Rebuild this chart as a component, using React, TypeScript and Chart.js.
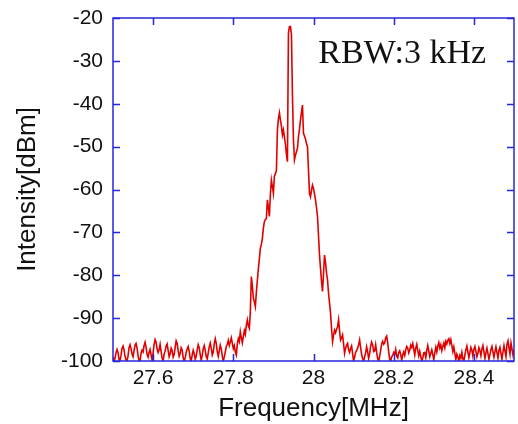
import React, { useEffect, useRef } from "react";
import { Chart, registerables } from "chart.js";

Chart.register(...registerables);

// Frequency grid (MHz) of the spectrum analyser trace
const FREQ_START = 27.5;
const FREQ_STEP = 0.0025;

const X_TICKS = [27.6, 27.8, 28.0, 28.2, 28.4];
const Y_TICKS = [-100, -90, -80, -70, -60, -50, -40, -30, -20];

const X_TITLE = "Frequency[MHz]";
const Y_TITLE = "Intensity[dBm]";
const ANNOTATION = "RBW:3 kHz";

// Intensity in dBm, 27.5000 .. 27.7925 MHz (noise floor, left)
const INTENSITY_LEFT = [
  -99.0, -100, -99.4, -98.1, -97.3, -98.0, -99.6, -100, -98.7, -97.0, -96.5, -97.4, -98.9, -99.7, -100, -98.8, -96.9, -96.2, -97.1, -98.4,
  -99.0, -97.6, -96.3, -95.9, -97.0, -98.8, -99.9, -100, -98.2, -97.5, -97.9, -96.4, -95.6, -96.8, -98.5, -99.1, -98.0, -97.3, -98.6, -99.8,
  -98.1, -96.2, -95.0, -95.6, -97.2, -98.0, -97.4, -96.1, -97.8, -99.3, -100, -98.4, -97.7, -96.5, -96.0, -97.5, -99.0, -98.3, -97.0, -97.6,
  -99.1, -98.5, -96.8, -95.3, -95.9, -97.6, -98.9, -98.2, -96.9, -97.4, -99.2, -100, -99.3, -98.0, -97.2, -96.6, -97.7, -99.4, -100, -98.6,
  -97.5, -98.3, -99.6, -98.9, -97.4, -96.2, -96.9, -98.5, -99.8, -98.7, -97.1, -96.4, -97.6, -99.0, -99.5, -98.1, -96.7, -95.8, -97.0, -98.6,
  -97.9, -96.0, -94.8, -95.9, -97.8, -98.9, -97.6, -96.3, -97.2, -98.8, -100, -99.1, -97.9, -96.6, -96.1, -95.2, -96.4, -95.6,
];

// Intensity in dBm, 27.7950 .. 28.1150 MHz (signal region)
const INTENSITY_SIGNAL = [
  -94.6, -95.8, -97.1, -96.4, -97.9, -98.6, -96.0, -94.8, -95.5, -93.2, -94.6, -95.8, -94.3, -92.9, -93.8, -91.7, -90.4, -91.8, -92.4, -88.6,
  -80.3, -82.4, -85.3, -86.2, -87.3, -84.0, -81.1, -78.5, -76.2, -73.7, -72.8, -71.4, -69.0, -67.5, -67.0, -66.8, -62.4, -64.1, -66.3, -61.0,
  -57.8, -59.3, -60.9, -56.9, -56.3, -55.5, -46.1, -43.5, -42.1, -43.8, -45.2, -47.3, -46.1, -47.7, -49.5, -51.8, -53.5, -23.5, -22.0, -22.0,
  -23.8, -38.0, -48.5, -53.1, -52.0, -51.2, -50.4, -47.7, -45.9, -43.8, -42.0, -40.3, -46.9, -47.5, -48.2, -49.3, -50.0, -55.5, -60.9, -61.7,
  -60.2, -59.0, -59.8, -61.0, -62.4, -64.2, -66.3, -70.8, -75.3, -78.4, -81.5, -83.8, -79.6, -75.3, -77.0, -79.5, -81.1, -84.2, -86.5, -88.9,
  -92.3, -95.5, -94.0, -92.8, -93.4, -92.6, -92.0, -90.4, -92.9, -95.1, -94.6, -93.9, -96.0, -98.2, -97.0, -96.3, -95.9, -97.4, -98.0, -97.1,
  -96.5, -98.3, -100, -99.1, -98.0, -97.6, -97.0, -96.2, -95.1,
];

// Intensity in dBm, 28.1175 .. 28.5000 MHz (noise floor, right)
const INTENSITY_RIGHT = [
  -96.8, -98.5, -99.4, -100, -99.0, -98.1, -96.7, -97.9, -99.4, -98.3, -96.5, -95.6, -96.3, -97.8, -97.6, -96.2, -98.0, -99.5, -100, -98.9,
  -97.5, -96.0, -95.4, -96.1, -95.8, -94.6, -94.2, -95.7, -97.8, -99.6, -100, -99.0, -98.7, -98.0, -98.4, -97.3, -98.9, -99.3, -98.0, -97.6,
  -98.5, -99.8, -98.6, -97.9, -98.7, -97.4, -96.6, -97.0, -98.1, -97.5, -96.3, -96.8, -95.9, -97.2, -98.6, -97.0, -96.1, -97.5, -98.8, -97.7,
  -98.9, -100, -99.3, -98.1, -98.0, -99.2, -97.6, -96.4, -97.7, -99.0, -98.2, -97.4, -98.5, -99.7, -98.1, -96.8, -97.9, -96.5, -95.7, -97.0,
  -96.2, -97.6, -96.6, -95.8, -96.9, -95.4, -96.0, -95.1, -94.8, -95.9, -95.0, -96.4, -97.8, -96.7, -98.2, -99.6, -98.4, -99.1, -100, -98.7,
  -99.3, -98.0, -99.5, -100, -98.6, -97.4, -96.5, -97.9, -99.2, -98.0, -96.8, -97.5, -98.9, -97.3, -96.6, -97.7, -99.0, -98.2, -96.9, -97.6,
  -98.8, -97.2, -96.4, -97.8, -99.4, -98.1, -97.0, -98.3, -99.6, -98.5, -97.3, -96.6, -97.9, -99.1, -97.8, -96.7, -98.0, -99.3, -97.5, -96.8,
  -98.2, -99.6, -97.9, -96.4, -97.7, -99.0, -96.1, -95.3, -96.9, -98.4, -95.8, -97.2, -98.6, -97.4,
];

const INTENSITY = [...INTENSITY_LEFT, ...INTENSITY_SIGNAL, ...INTENSITY_RIGHT];
const FREQUENCY = INTENSITY.map((_, i) => +(FREQ_START + i * FREQ_STEP).toFixed(4));

const AXIS_COLOR = "#2626e0";
const LINE_COLOR = "#e00000";
const TEXT_COLOR = "#111111";
const SANS = '"Liberation Sans", Arial, sans-serif';
const SERIF = '"Liberation Serif", "Times New Roman", serif';

const framePlugin = {
  id: "frameTicks",
  afterDatasetsDraw(chart: any) {
    const { ctx, chartArea, scales } = chart;
    const { left, right, top, bottom } = chartArea;
    const xs = scales.x;
    const ys = scales.y;
    ctx.save();
    ctx.strokeStyle = AXIS_COLOR;
    ctx.lineWidth = 1.5;
    ctx.strokeRect(left, top, right - left, bottom - top);
    ctx.beginPath();
    const len = 7;
    X_TICKS.forEach((v) => {
      const px = Math.round(xs.getPixelForValue(v)) + 0.5;
      ctx.moveTo(px, bottom);
      ctx.lineTo(px, bottom - len);
      ctx.moveTo(px, top);
      ctx.lineTo(px, top + len);
    });
    Y_TICKS.forEach((v) => {
      const py = Math.round(ys.getPixelForValue(v)) + 0.5;
      ctx.moveTo(left, py);
      ctx.lineTo(left + len, py);
      ctx.moveTo(right, py);
      ctx.lineTo(right - len, py);
    });
    ctx.stroke();

    ctx.fillStyle = TEXT_COLOR;
    ctx.font = `34px ${SERIF}`;
    ctx.textBaseline = "alphabetic";
    ctx.textAlign = "left";
    ctx.fillText(ANNOTATION, xs.getPixelForValue(28.012), ys.getPixelForValue(-30.5));
    ctx.restore();
  },
};

export default function App() {
  const canvasRef = useRef<HTMLCanvasElement | null>(null);

  useEffect(() => {
    const canvas = canvasRef.current;
    if (!canvas) return;
    const points = FREQUENCY.map((f, i) => ({ x: f, y: INTENSITY[i] }));
    const chart = new Chart(canvas, {
      type: "line",
      data: {
        datasets: [
          {
            data: points,
            borderColor: LINE_COLOR,
            borderWidth: 1.6,
            pointRadius: 0,
            tension: 0,
            fill: false,
          },
        ],
      },
      options: {
        animation: false,
        responsive: false,
        layout: { padding: { top: 18, right: 4, left: 0, bottom: 0 } },
        plugins: { legend: { display: false }, tooltip: { enabled: false } },
        scales: {
          x: {
            type: "linear",
            min: 27.5,
            max: 28.5,
            afterBuildTicks: (s: any) => {
              s.ticks = X_TICKS.map((v) => ({ value: v }));
            },
            afterFit: (s: any) => {
              s.height = 63;
              s.paddingLeft = 0;
              s.paddingRight = 0;
            },
            grid: { display: false, drawTicks: false },
            border: { display: false },
            ticks: {
              autoSkip: false,
              maxRotation: 0,
              padding: 5,
              color: TEXT_COLOR,
              font: { family: SANS, size: 21 },
              callback: (v: any) => String(+Number(v).toFixed(1)),
            },
            title: {
              display: true,
              text: X_TITLE,
              color: TEXT_COLOR,
              font: { family: SANS, size: 26 },
              padding: { top: 0, bottom: 0 },
            },
          },
          y: {
            type: "linear",
            min: -100,
            max: -20,
            afterBuildTicks: (s: any) => {
              s.ticks = Y_TICKS.map((v) => ({ value: v }));
            },
            afterFit: (s: any) => {
              s.width = 113;
              s.paddingTop = 0;
              s.paddingBottom = 0;
            },
            grid: { display: false, drawTicks: false },
            border: { display: false },
            ticks: {
              padding: 10,
              color: TEXT_COLOR,
              font: { family: SANS, size: 21 },
            },
            title: {
              display: true,
              text: Y_TITLE,
              color: TEXT_COLOR,
              font: { family: SANS, size: 26 },
              padding: { top: 12, bottom: 0 },
            },
          },
        },
      },
      plugins: [framePlugin],
    });
    return () => chart.destroy();
  }, []);

  return (
    <div style={{ position: "fixed", left: 0, top: 0, width: 518, height: 424, background: "#ffffff" }}>
      <canvas ref={canvasRef} width={518} height={424} />
    </div>
  );
}
